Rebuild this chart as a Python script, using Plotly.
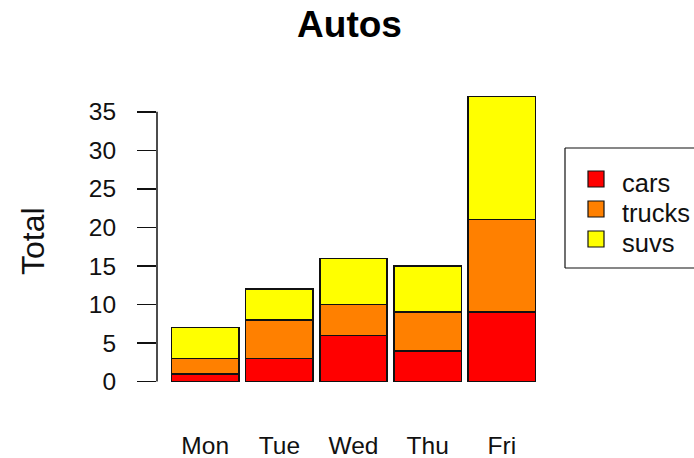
import plotly.graph_objects as go

days = ["Mon", "Tue", "Wed", "Thu", "Fri"]
series_names = ["cars", "trucks", "suvs"]
cars = [1, 3, 6, 4, 9]
trucks = [2, 5, 4, 5, 12]
suvs = [4, 4, 6, 6, 16]
y_ticks = [0, 5, 10, 15, 20, 25, 30, 35]

colors = ["#FF0000", "#FF8000", "#FFFF00"]
FONT = "Liberation Sans, Arial, sans-serif"

W, H = 694, 458
L, R, T, B = 157, 550, 85, 393  # plot area in px

def px(x):
    return (x - L) / (R - L)

def py(y):
    return (B - y) / (B - T)

fig = go.Figure()
for name, vals, col in zip(series_names, [cars, trucks, suvs], colors):
    fig.add_trace(go.Bar(
        x=days, y=vals, name=name,
        marker=dict(color=col, line=dict(color="#111111", width=1.5)),
        showlegend=False, hoverinfo="skip",
    ))

shapes = []
annotations = []

# y axis line from 0 to 35 only
shapes.append(dict(type="line", xref="paper", yref="y", x0=0, x1=0,
                   y0=y_ticks[0], y1=y_ticks[-1],
                   line=dict(color="#111111", width=1.5)))

# custom legend box (right side runs off the page)
box = dict(xref="paper", yref="paper", type="line",
           line=dict(color="#111111", width=1.2))
shapes.append(dict(box, x0=px(565), x1=px(565), y0=py(268), y1=py(148)))
shapes.append(dict(box, x0=px(565), x1=px(720), y0=py(148), y1=py(148)))
shapes.append(dict(box, x0=px(565), x1=px(720), y0=py(268), y1=py(268)))
for i, (name, col) in enumerate(zip(series_names, colors)):
    cy = 179 + 30 * i
    shapes.append(dict(type="rect", xref="paper", yref="paper",
                       x0=px(588), x1=px(604), y0=py(cy + 8), y1=py(cy - 8),
                       line=dict(color="#111111", width=1.2), fillcolor=col))
    annotations.append(dict(text=name, xref="paper", yref="paper",
                            x=px(620), y=py(cy + 4), xanchor="left", yanchor="middle",
                            showarrow=False,
                            font=dict(family=FONT, size=25.5, color="#111111")))

# y axis title
annotations.append(dict(text="Total", xref="paper", yref="paper",
                        x=px(33), y=py(241), textangle=-90,
                        xanchor="center", yanchor="middle", showarrow=False,
                        font=dict(family=FONT, size=32, color="#111111")))

fig.update_layout(
    width=W, height=H,
    margin=dict(l=L, r=W - R, t=T, b=H - B, pad=0, autoexpand=False),
    barmode="stack",
    bargap=1 - 1 / 1.1,
    plot_bgcolor="white", paper_bgcolor="white",
    title=dict(text="<b>Autos</b>", x=349.5 / W, xref="container", xanchor="center",
               y=1 - 24 / H, yref="container", yanchor="middle",
               font=dict(family=FONT, size=37, color="#000000")),
    xaxis=dict(type="category", range=[-0.65, 4.65], showline=False,
               showgrid=False, zeroline=False, ticks="", ticklabelstandoff=35,
               automargin=False,
               tickfont=dict(family=FONT, size=24.5, color="#111111")),
    yaxis=dict(range=[-1.48, 38.48], tickvals=y_ticks, showline=False,
               showgrid=False, zeroline=False, ticks="outside", ticklen=19,
               tickwidth=1.5, tickcolor="#111111", ticklabelstandoff=16,
               automargin=False,
               tickfont=dict(family=FONT, size=24.5, color="#111111")),
    shapes=shapes, annotations=annotations,
)

fig.write_html("out.html", config={"displayModeBar": False, "staticPlot": True},
               post_script="document.body.style.margin='0';document.body.style.overflow='hidden';")
